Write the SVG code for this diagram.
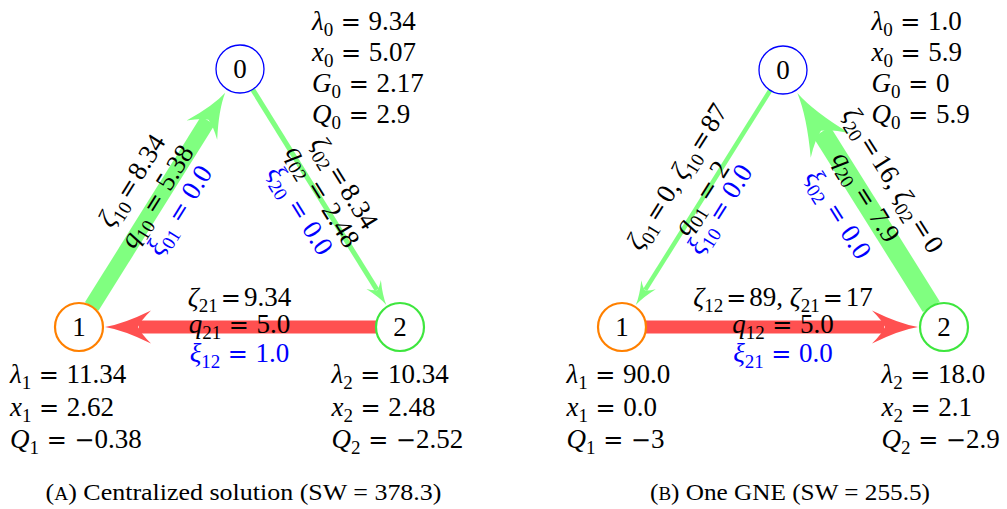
<svg xmlns="http://www.w3.org/2000/svg" width="1007" height="509" viewBox="0 0 1007 509">
<style>
.t{font-family:"Liberation Serif","Times New Roman",serif;font-size:27px;fill:#000}
.i{font-style:italic}
.s{font-size:19px;font-style:normal}
.e{font-family:"DejaVu Serif",serif;font-size:24px;font-style:normal}
.b{fill:#0000ff}
.m{text-anchor:middle}
.cap{font-family:"Liberation Serif","Times New Roman",serif;font-size:24px;fill:#000;text-anchor:middle}
.g{stroke:#80ff80;fill:none}
.gh{fill:#80ff80}
.r{stroke:#ff5050;fill:none}
.rh{fill:#ff5050}
.nb{fill:#fff;stroke:#0000ff;stroke-width:1.3}
.no{fill:#fff;stroke:#ff8000;stroke-width:2.2}
.ng{fill:#fff;stroke:#3ee63e;stroke-width:2.2}
</style>
<defs>
<path id="ah" d="M0,0 Q-0.4,-0.18 -1,-1 Q-0.78,-0.4 -0.72,0 Q-0.78,0.4 -1,1 Q-0.4,0.18 0,0 Z"/>
</defs>

<g id="connectors">
 <g id="a-e10">
  <line class="g" x1="91.7" y1="306.6" x2="207.9" y2="120.5" stroke-width="16"/>
  <use href="#ah" class="gh" transform="translate(225.2,92.8) rotate(-58.03) scale(44,18)"/>
  <g transform="translate(159.5,198) rotate(-58.03)">
   <text class="t m" y="-24"><tspan class="i">ζ</tspan><tspan class="s" dy="6">10</tspan><tspan class="e" dy="-6" dx="3">=</tspan><tspan dx="3">8.34</tspan></text>
   <text class="t m" y="5.5"><tspan class="i">q</tspan><tspan class="s" dy="6">10</tspan><tspan class="e" dy="-6"> = </tspan>5.38</text>
   <text class="t m b" y="32"><tspan class="i">ξ</tspan><tspan class="s" dy="6">01</tspan><tspan class="e" dy="-6"> = </tspan>0.0</text>
  </g>
 </g>
 <g id="a-e02">
  <line class="g" x1="252.6" y1="89.4" x2="376.9" y2="289.8" stroke-width="5"/>
  <use href="#ah" class="gh" transform="translate(386.3,304.9) rotate(58.19) scale(24,8.5)"/>
  <g transform="translate(320,198) rotate(58.19)">
   <text class="t m" y="-20"><tspan class="i">ζ</tspan><tspan class="s" dy="6">02</tspan><tspan class="e" dy="-6" dx="3">=</tspan><tspan dx="3">8.34</tspan></text>
   <text class="t m" y="5.5"><tspan class="i">q</tspan><tspan class="s" dy="6">02</tspan><tspan class="e" dy="-6"> = </tspan>2.48</text>
   <text class="t m b" y="32"><tspan class="i">ξ</tspan><tspan class="s" dy="6">20</tspan><tspan class="e" dy="-6"> = </tspan>0.0</text>
  </g>
 </g>
 <g id="a-e21">
  <line class="r" x1="376" y1="327" x2="139" y2="327" stroke-width="13"/>
  <use href="#ah" class="rh" transform="translate(105,327) rotate(180) scale(46,16.5)"/>
  <text class="t m" x="239.5" y="305.5"><tspan class="i">ζ</tspan><tspan class="s" dy="6">21</tspan><tspan class="e" dy="-6" dx="3">=</tspan><tspan dx="3">9.34</tspan></text>
  <text class="t m" x="239.5" y="333"><tspan class="i">q</tspan><tspan class="s" dy="6">21</tspan><tspan class="e" dy="-6"> = </tspan>5.0</text>
  <text class="t m b" x="239.5" y="361.5"><tspan class="i">ξ</tspan><tspan class="s" dy="6">12</tspan><tspan class="e" dy="-6"> = </tspan>1.0</text>
 </g>

 <g id="b-e01">
  <line class="g" x1="770.3" y1="90.3" x2="645.2" y2="289.9" stroke-width="4.5"/>
  <use href="#ah" class="gh" transform="translate(635.8,305) rotate(122.07) scale(24,8.5)"/>
  <g transform="translate(702.5,198.5) rotate(-57.93)">
   <text class="t m" x="5" y="-24.5"><tspan class="i">ζ</tspan><tspan class="s" dy="6">01</tspan><tspan class="e" dy="-6" dx="3">=</tspan><tspan dx="3">0, </tspan><tspan class="i">ζ</tspan><tspan class="s" dy="6">10</tspan><tspan class="e" dy="-6" dx="3">=</tspan><tspan dx="3">87</tspan></text>
   <text class="t m" y="7.5"><tspan class="i">q</tspan><tspan class="s" dy="6">01</tspan><tspan class="e" dy="-6"> = </tspan>2</text>
   <text class="t m b" y="29"><tspan class="i">ξ</tspan><tspan class="s" dy="6">10</tspan><tspan class="e" dy="-6"> = </tspan>0.0</text>
  </g>
 </g>
 <g id="b-e20">
  <line class="g" x1="931.3" y1="306.7" x2="821.7" y2="131.9" stroke-width="20"/>
  <use href="#ah" class="gh" transform="translate(797.3,92.9) rotate(-122.07) scale(62,23)"/>
  <g transform="translate(863.5,198.5) rotate(57.93)">
   <text class="t m" y="-26"><tspan class="i">ζ</tspan><tspan class="s" dy="6">20</tspan><tspan class="e" dy="-6" dx="3">=</tspan><tspan dx="3">16, </tspan><tspan class="i">ζ</tspan><tspan class="s" dy="6">02</tspan><tspan class="e" dy="-6" dx="3">=</tspan><tspan dx="3">0</tspan></text>
   <text class="t m" y="5.5"><tspan class="i">q</tspan><tspan class="s" dy="6">20</tspan><tspan class="e" dy="-6"> = </tspan>7.9</text>
   <text class="t m b" y="38.5"><tspan class="i">ξ</tspan><tspan class="s" dy="6">02</tspan><tspan class="e" dy="-6"> = </tspan>0.0</text>
  </g>
 </g>
 <g id="b-e12">
  <line class="r" x1="646" y1="327" x2="884" y2="327" stroke-width="13"/>
  <use href="#ah" class="rh" transform="translate(918,327) scale(46,16.5)"/>
  <text class="t m" x="783" y="305.5"><tspan class="i">ζ</tspan><tspan class="s" dy="6">12</tspan><tspan class="e" dy="-6" dx="3">=</tspan><tspan dx="3">89, </tspan><tspan class="i">ζ</tspan><tspan class="s" dy="6">21</tspan><tspan class="e" dy="-6" dx="3">=</tspan><tspan dx="3">17</tspan></text>
  <text class="t m" x="783" y="333"><tspan class="i">q</tspan><tspan class="s" dy="6">12</tspan><tspan class="e" dy="-6"> = </tspan>5.0</text>
  <text class="t m b" x="783" y="361.5"><tspan class="i">ξ</tspan><tspan class="s" dy="6">21</tspan><tspan class="e" dy="-6"> = </tspan>0.0</text>
 </g>
</g>

<g id="a-n0">
 <circle class="nb" cx="240" cy="69" r="24"/>
 <text class="t m" x="240" y="78">0</text>
 <text class="t" x="312" y="29.5"><tspan class="i">λ</tspan><tspan class="s" dy="6">0</tspan><tspan class="e" dy="-6"> = </tspan>9.34</text>
 <text class="t" x="312" y="60.5"><tspan class="i">x</tspan><tspan class="s" dy="6">0</tspan><tspan class="e" dy="-6"> = </tspan>5.07</text>
 <text class="t" x="312" y="91.5"><tspan class="i">G</tspan><tspan class="s" dy="6">0</tspan><tspan class="e" dy="-6"> = </tspan>2.17</text>
 <text class="t" x="312" y="122.5"><tspan class="i">Q</tspan><tspan class="s" dy="6">0</tspan><tspan class="e" dy="-6"> = </tspan>2.9</text>
</g>
<g id="a-n1">
 <circle class="no" cx="79" cy="327" r="24"/>
 <text class="t m" x="79" y="336">1</text>
 <text class="t" x="10" y="383"><tspan class="i">λ</tspan><tspan class="s" dy="6">1</tspan><tspan class="e" dy="-6"> = </tspan>11.34</text>
 <text class="t" x="10" y="415.5"><tspan class="i">x</tspan><tspan class="s" dy="6">1</tspan><tspan class="e" dy="-6"> = </tspan>2.62</text>
 <text class="t" x="10" y="448"><tspan class="i">Q</tspan><tspan class="s" dy="6">1</tspan><tspan class="e" dy="-6"> = −</tspan>0.38</text>
</g>
<g id="a-n2">
 <circle class="ng" cx="400" cy="327" r="24"/>
 <text class="t m" x="400" y="336">2</text>
 <text class="t" x="331.5" y="383"><tspan class="i">λ</tspan><tspan class="s" dy="6">2</tspan><tspan class="e" dy="-6"> = </tspan>10.34</text>
 <text class="t" x="331.5" y="415.5"><tspan class="i">x</tspan><tspan class="s" dy="6">2</tspan><tspan class="e" dy="-6"> = </tspan>2.48</text>
 <text class="t" x="331.5" y="448"><tspan class="i">Q</tspan><tspan class="s" dy="6">2</tspan><tspan class="e" dy="-6"> = −</tspan>2.52</text>
</g>

<g id="b-n0">
 <circle class="nb" cx="783" cy="70" r="24"/>
 <text class="t m" x="783" y="79">0</text>
 <text class="t" x="871.5" y="30"><tspan class="i">λ</tspan><tspan class="s" dy="6">0</tspan><tspan class="e" dy="-6"> = </tspan>1.0</text>
 <text class="t" x="871.5" y="61"><tspan class="i">x</tspan><tspan class="s" dy="6">0</tspan><tspan class="e" dy="-6"> = </tspan>5.9</text>
 <text class="t" x="871.5" y="92"><tspan class="i">G</tspan><tspan class="s" dy="6">0</tspan><tspan class="e" dy="-6"> = </tspan>0</text>
 <text class="t" x="871.5" y="123"><tspan class="i">Q</tspan><tspan class="s" dy="6">0</tspan><tspan class="e" dy="-6"> = </tspan>5.9</text>
</g>
<g id="b-n1">
 <circle class="no" cx="622" cy="327" r="24"/>
 <text class="t m" x="622" y="336">1</text>
 <text class="t" x="566.5" y="383"><tspan class="i">λ</tspan><tspan class="s" dy="6">1</tspan><tspan class="e" dy="-6"> = </tspan>90.0</text>
 <text class="t" x="566.5" y="415.5"><tspan class="i">x</tspan><tspan class="s" dy="6">1</tspan><tspan class="e" dy="-6"> = </tspan>0.0</text>
 <text class="t" x="566.5" y="448"><tspan class="i">Q</tspan><tspan class="s" dy="6">1</tspan><tspan class="e" dy="-6"> = −</tspan>3</text>
</g>
<g id="b-n2">
 <circle class="ng" cx="944" cy="327" r="24"/>
 <text class="t m" x="944" y="336">2</text>
 <text class="t" x="881.5" y="383"><tspan class="i">λ</tspan><tspan class="s" dy="6">2</tspan><tspan class="e" dy="-6"> = </tspan>18.0</text>
 <text class="t" x="881.5" y="415.5"><tspan class="i">x</tspan><tspan class="s" dy="6">2</tspan><tspan class="e" dy="-6"> = </tspan>2.1</text>
 <text class="t" x="881.5" y="448"><tspan class="i">Q</tspan><tspan class="s" dy="6">2</tspan><tspan class="e" dy="-6"> = −</tspan>2.9</text>
</g>

<g id="captions">
 <text class="cap" x="243.5" y="500" textLength="396" lengthAdjust="spacingAndGlyphs">(<tspan font-size="18">A</tspan>) Centralized solution (SW = 378.3)</text>
 <text class="cap" x="790" y="500" textLength="280" lengthAdjust="spacingAndGlyphs">(<tspan font-size="18">B</tspan>) One GNE (SW = 255.5)</text>
</g>
</svg>
